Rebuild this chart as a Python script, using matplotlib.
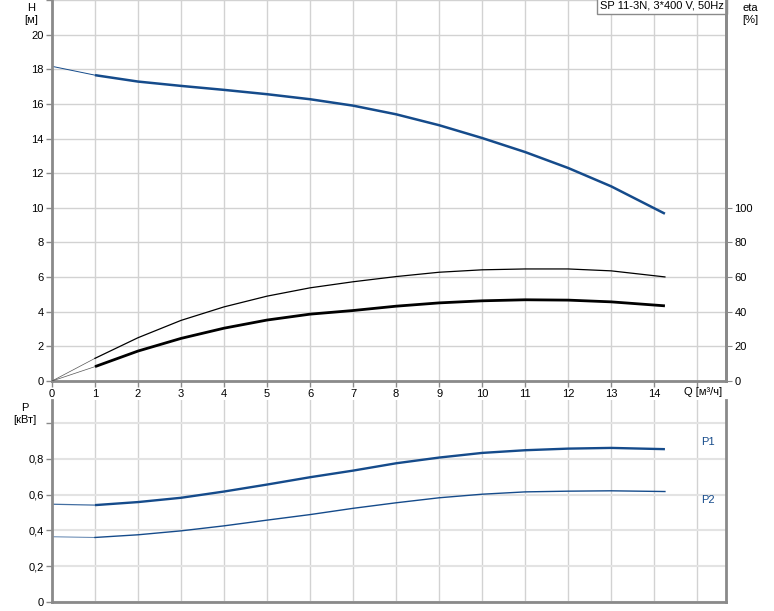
import matplotlib
matplotlib.use("Agg")
import matplotlib.pyplot as plt

# Flow points, m3/h
q = [0, 1, 2, 3, 4, 5, 6, 7, 8, 9, 10, 11, 12, 13, 14.25]

# Head, m
head = [18.17, 17.66, 17.29, 17.04, 16.81, 16.56, 16.27, 15.90, 15.40, 14.77, 14.03, 13.22, 12.30, 11.24, 9.66]

# Efficiency curves, %
eta_hi = [0, 13.1, 25.0, 35.0, 42.8, 49.0, 53.8, 57.3, 60.3, 62.8, 64.2, 64.7, 64.7, 63.6, 60.1]
eta_lo = [0, 8.3, 17.3, 24.6, 30.5, 35.2, 38.6, 40.7, 43.2, 45.1, 46.3, 46.9, 46.7, 45.7, 43.4]

# Power, kW
p1 = [0.547, 0.542, 0.559, 0.583, 0.618, 0.657, 0.698, 0.735, 0.776, 0.808, 0.834, 0.849, 0.858, 0.862, 0.855]
p2 = [0.365, 0.361, 0.376, 0.398, 0.426, 0.458, 0.489, 0.524, 0.555, 0.583, 0.603, 0.616, 0.620, 0.622, 0.618]

BLUE = "#154b8b"
GRID = "#d2d2d2"
SPINE = "#8a8a8a"

plt.rcParams["font.family"] = ["Liberation Sans", "DejaVu Sans"]
plt.rcParams["font.size"] = 8

W, H = 774, 611
fig = plt.figure(figsize=(W / 100, H / 100), dpi=100)


def box(l, t, r, b):
    return [l / W, 1 - b / H, (r - l) / W, (b - t) / H]


def ptext(x, y, s, **kw):
    # text placed in figure pixels from the top-left corner
    fig.text(x / W, 1 - y / H, s, **kw)


ax = fig.add_axes(box(52, 0, 726, 381))
axp = fig.add_axes(box(52, 400, 726, 602))

XMAX = 15.67
for a in (ax, axp):
    a.set_xlim(0, XMAX)
    a.set_xticks(range(0, 16))
    a.grid(True, color=GRID, linewidth=1)
    a.set_axisbelow(True)
    for s in ("left", "bottom", "right"):
        a.spines[s].set_color(SPINE)
        a.spines[s].set_linewidth(2)
    a.spines["top"].set_visible(False)
    a.tick_params(length=4, width=1, color=SPINE, pad=2, labelsize=8)

# top panel: head and efficiency
ax.set_ylim(0, 22)
ax.set_yticks(range(0, 23, 2))
ax.set_yticklabels([str(v) for v in range(0, 21, 2)] + [""])
ax.set_xticklabels([str(v) for v in range(0, 15)] + [""])

ax.plot(q[:2], head[:2], color=BLUE, linewidth=0.7)
ax.plot(q[1:], head[1:], color=BLUE, linewidth=1.8, solid_capstyle="butt")

ax2 = ax.twinx()
ax2.set_ylim(0, 220)
ax2.set_yticks(range(0, 101, 20))
ax2.spines["right"].set_color(SPINE)
ax2.spines["right"].set_linewidth(2)
for s in ("left", "top", "bottom"):
    ax2.spines[s].set_visible(False)
ax2.tick_params(length=4, color=SPINE, pad=2, labelsize=8)
ax2.plot(q[:2], eta_hi[:2], color="#555555", linewidth=0.5)
ax2.plot(q[1:], eta_hi[1:], color="black", linewidth=0.9)
ax2.plot(q[:2], eta_lo[:2], color="#555555", linewidth=0.5)
ax2.plot(q[1:], eta_lo[1:], color="black", linewidth=2.0, solid_capstyle="butt")

ptext(31, 3, "H\n[м]", ha="center", va="top", fontsize=8, linespacing=1.3)
ptext(750, 3, "eta\n[%]", ha="center", va="top", fontsize=8, linespacing=1.3)
ptext(703, 392, "Q [м³/ч]", ha="center", va="center", fontsize=8)
ax.text(0.997, 0.999, "SP 11-3N, 3*400 V, 50Hz", transform=ax.transAxes, ha="right", va="top",
        fontsize=8, bbox=dict(facecolor="white", edgecolor=SPINE, boxstyle="square,pad=0.3", linewidth=1))

# bottom panel: power
axp.set_ylim(0, 1.13)
axp.set_yticks([0, 0.2, 0.4, 0.6, 0.8, 1.0])
axp.set_yticklabels(["0", "0,2", "0,4", "0,6", "0,8", ""])
axp.set_xticklabels([])
axp.tick_params(axis="x", length=0)
axp.grid(True, axis="y", color="#e3e3e3", linewidth=1.5)

axp.plot(q[:2], p1[:2], color=BLUE, linewidth=0.9, alpha=0.8)
axp.plot(q[1:], p1[1:], color=BLUE, linewidth=1.7, solid_capstyle="butt")
axp.plot(q[:2], p2[:2], color=BLUE, linewidth=0.7, alpha=0.7)
axp.plot(q[1:], p2[1:], color=BLUE, linewidth=1.0)

ptext(708, 442, "P1", color=BLUE, fontsize=8, ha="center", va="center")
ptext(708, 500, "P2", color=BLUE, fontsize=8, ha="center", va="center")
ptext(25, 403, "P\n[кВт]", ha="center", va="top", fontsize=8, linespacing=1.3)

fig.savefig("out.png", dpi=100)
